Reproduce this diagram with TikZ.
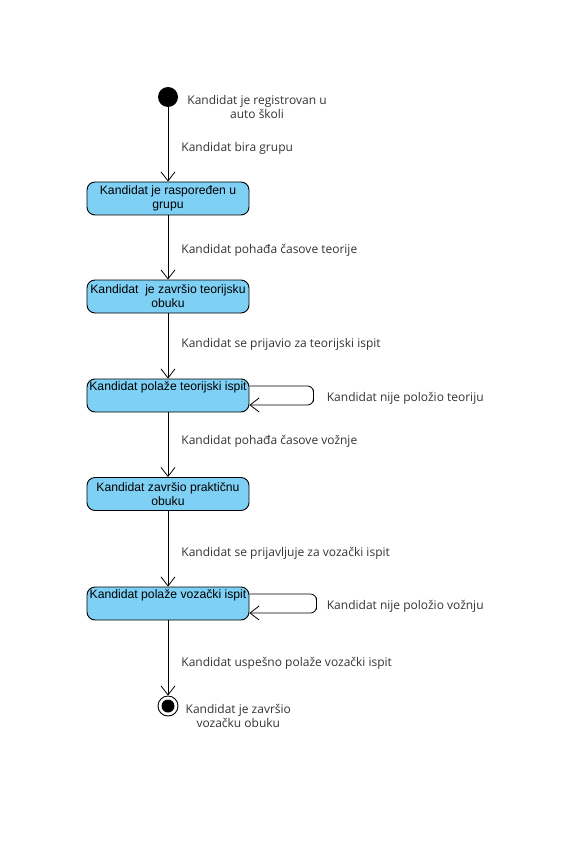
\documentclass[tikz,border=0pt]{standalone}
\usepackage{fontspec}
\setmainfont{Liberation Sans}
\newfontfamily\lblfont{Open Sans}
\usetikzlibrary{arrows.meta,positioning}
\definecolor{statefill}{RGB}{126,208,245}
\definecolor{lblgray}{RGB}{51,51,51}

\begin{document}
\begin{tikzpicture}[x=1pt,y=-1pt,
   state/.style={draw=black, fill=statefill, rounded corners=8pt, minimum width=162pt, minimum height=33pt, align=center, inner sep=0pt, line width=0.9pt, font=\fontsize{12.2}{14}\selectfont},
   lbl/.style={inner sep=0pt, text=lblgray, font=\lblfont\fontsize{12}{14}\selectfont},
   flow/.style={draw=black, line width=0.8pt, -{Straight Barb[length=9pt,width=14pt]}}]
   \useasboundingbox (0,0) rectangle (579,850);
   \node[circle, fill=black, minimum size=20pt, inner sep=0pt] (start) at (168,97) {};
   \node[circle, draw=black, fill=white, line width=0.9pt, minimum size=20pt, inner sep=0pt,
         path picture={\fill[black] (path picture bounding box.center) circle (6.5pt);}] (stop) at (168,706) {};
   \begin{scope}[every node/.style={state}]
    \node (s1) at (168,198.5) {Kandidat je raspoređen u\\grupu};
    \node (s2) at (168,296.5) {Kandidat~ je završio teorijsku\\obuku};
    \node (s3) at (168,395.5) {Kandidat polaže teorijski ispit\\\strut};
    \node (s4) at (168,494) {Kandidat završio praktičnu\\obuku};
    \node (s5) at (168,603.5) {Kandidat polaže vozački ispit\\\strut};
   \end{scope}
   \node[lbl, align=center, right=9pt of start, yshift=-10pt] (startlbl) {Kandidat je registrovan u\\auto školi};
   \node[lbl, align=center, right=7pt of stop, yshift=-10pt] (stoplbl) {Kandidat je završio\\vozačku obuku};
   \begin{scope}[every edge/.style={flow}]
    \draw (start) edge node[lbl, right=13pt, yshift=-4pt]{Kandidat bira grupu} (s1);
    \draw (s1) edge node[lbl, right=13pt, yshift=-3pt]{Kandidat pohađa časove teorije} (s2);
    \draw (s2) edge node[lbl, right=13pt, yshift=2pt]{Kandidat se prijavio za teorijski ispit} (s3);
    \draw (s3) edge node[lbl, right=13pt, yshift=3pt]{Kandidat pohađa časove vožnje} (s4);
    \draw (s4) edge node[lbl, right=13pt, yshift=-5pt]{Kandidat se prijavljuje za vozački ispit} (s5);
    \draw (s5) edge node[lbl, right=13pt, yshift=-5pt]{Kandidat uspešno polaže vozački ispit} (stop);
   \end{scope}
   \draw[flow, rounded corners=6pt] ([yshift=9.5pt]s3.east) -| ([xshift=64pt]s3.east)
      node[lbl, right=13pt, yshift=-2.5pt]{Kandidat nije položio teoriju} |- ([yshift=-9.5pt]s3.east);
   \draw[flow, rounded corners=6pt] ([yshift=9.5pt]s5.east) -| ([xshift=67pt]s5.east)
      node[lbl, right=10pt, yshift=-3pt]{Kandidat nije položio vožnju} |- ([yshift=-9.5pt]s5.east);
\end{tikzpicture}
\end{document}
